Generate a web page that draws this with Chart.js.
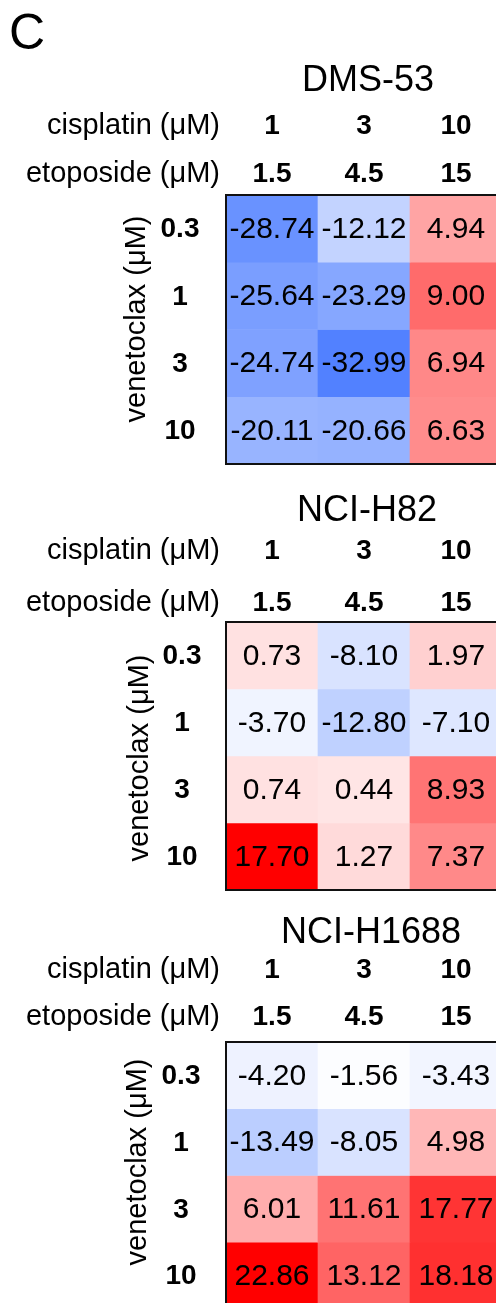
<!DOCTYPE html>
<html>
<head>
<meta charset="utf-8">
<script src="https://cdn.jsdelivr.net/npm/chart.js"></script>
<style>
  html, body { margin: 0; padding: 0; background: #fff; }
  body { width: 496px; height: 1303px; overflow: hidden; position: relative; }
  canvas { position: absolute; left: 0; }
</style>
</head>
<body>
<canvas id="p0"></canvas>
<canvas id="p1"></canvas>
<canvas id="p2"></canvas>
<script>
const cisplatinDoses = ['1', '3', '10']
const etoposideDoses = ['1.5', '4.5', '15']
const venetoclaxDoses = ['0.3', '1', '3', '10']

// rows = venetoclax, columns = cisplatin/etoposide
const dms53 = [
    [-28.74, -12.12, 4.94],
    [-25.64, -23.29, 9.00],
    [-24.74, -32.99, 6.94],
    [-20.11, -20.66, 6.63]
]
const nciH82 = [
    [0.73, -8.10, 1.97],
    [-3.70, -12.80, -7.10],
    [0.74, 0.44, 8.93],
    [17.70, 1.27, 7.37]
]
const nciH1688 = [
    [-4.20, -1.56, -3.43],
    [-13.49, -8.05, 4.98],
    [6.01, 11.61, 17.77],
    [22.86, 13.12, 18.18]
]

const FONT = "'Liberation Sans', Arial, sans-serif"
const CANVAS_W = 520
const GRID_LEFT = 226
const GRID_RIGHT = 502

const panels = [
    {id: 'p0', title: 'DMS-53', values: dms53, redMax: 16.5, letter: 'C',
        top: 0, height: 480, gridTop: 195, gridBottom: 464, titleX: 368,
        titleY: 91, cisY: 134, etoY: 182, yTitleX: 137, yTitleY: 319, rowLabelX: 180},
    {id: 'p1', title: 'NCI-H82', values: nciH82, redMax: 17.7,
        top: 480, height: 420, gridTop: 622, gridBottom: 890, titleX: 367,
        titleY: 521, cisY: 559, etoY: 611, yTitleX: 140, yTitleY: 758, rowLabelX: 182},
    {id: 'p2', title: 'NCI-H1688', values: nciH1688, redMax: 22.86,
        top: 900, height: 420, gridTop: 1042, gridBottom: 1309, titleX: 371,
        titleY: 943, cisY: 978, etoY: 1025, yTitleX: 138, yTitleY: 1162, rowLabelX: 181}
]

function cellColor(v, redMax) {
    if (v >= 0) {
        const t = Math.min(1, 0.08 + 0.92 * v / redMax)
        const g = Math.round(255 * (1 - t))
        return `rgb(255,${g},${g})`
    }
    const t = Math.min(1, Math.max(0, (-v - 1) / 49))
    const r = Math.round(255 - 265 * t)
    const g = Math.round(255 - 193 * t)
    return `rgb(${r},${g},255)`
}

const labelsPlugin = {
    id: 'heatLabels',
    afterDraw(chart) {
        const p = chart.options.plugins.heatLabels.panel
        const ctx = chart.ctx
        const area = chart.chartArea
        const xs = chart.scales.x
        const ys = chart.scales.y
        const off = p.top
        ctx.save()
        ctx.fillStyle = '#000'

        if (p.letter) {
            ctx.font = `50px ${FONT}`
            ctx.textAlign = 'left'
            ctx.textBaseline = 'alphabetic'
            ctx.fillText(p.letter, 9, 49 - off)
        }

        ctx.font = `36px ${FONT}`
        ctx.textAlign = 'center'
        ctx.textBaseline = 'alphabetic'
        ctx.fillText(p.title, p.titleX, p.titleY - off)

        ctx.font = `29px ${FONT}`
        ctx.textAlign = 'right'
        ctx.fillText('cisplatin (μM)', 220, p.cisY - off)
        ctx.fillText('etoposide (μM)', 220, p.etoY - off)

        ctx.font = `bold 28px ${FONT}`
        ctx.textAlign = 'center'
        cisplatinDoses.forEach((d, i) => {
            const x = xs.getPixelForValue(i)
            ctx.fillText(d, x, p.cisY - off)
            ctx.fillText(etoposideDoses[i], x, p.etoY - off)
        })

        ctx.textBaseline = 'middle'
        venetoclaxDoses.forEach((d, i) => {
            ctx.fillText(d, p.rowLabelX, ys.getPixelForValue(i + 0.5) + 1)
        })

        ctx.font = `29px ${FONT}`
        ctx.save()
        ctx.translate(p.yTitleX, p.yTitleY - off)
        ctx.rotate(-Math.PI / 2)
        ctx.fillText('venetoclax (μM)', 0, 0)
        ctx.restore()

        // cell values
        ctx.font = `30px ${FONT}`
        chart.data.datasets.forEach((ds, r) => {
            chart.getDatasetMeta(r).data.forEach((bar, c) => {
                const cy = (bar.y + bar.base) / 2
                ctx.fillText(p.values[r][c].toFixed(2), bar.x, cy + 1)
            })
        })

        ctx.lineWidth = 2
        ctx.strokeStyle = '#111'
        ctx.strokeRect(area.left, area.top, area.right - area.left, area.bottom - area.top)
        ctx.restore()
    }
}

panels.forEach(p => {
    const canvas = document.getElementById(p.id)
    canvas.style.top = p.top + 'px'
    canvas.width = CANVAS_W
    canvas.height = p.height

    const datasets = venetoclaxDoses.map((d, r) => ({
        label: 'venetoclax ' + d,
        data: cisplatinDoses.map(() => [r, r + 1]),
        backgroundColor: p.values[r].map(v => cellColor(v, p.redMax)),
        borderWidth: 0,
        barPercentage: 1,
        categoryPercentage: 1,
        grouped: false
    }))

    new Chart(canvas, {
        type: 'bar',
        data: {labels: cisplatinDoses, datasets: datasets},
        options: {
            responsive: false,
            animation: false,
            layout: {
                padding: {
                    left: GRID_LEFT,
                    right: CANVAS_W - GRID_RIGHT,
                    top: p.gridTop - p.top,
                    bottom: p.height - (p.gridBottom - p.top)
                }
            },
            scales: {
                x: {display: false, offset: true},
                y: {display: false, min: 0, max: 4, reverse: true}
            },
            plugins: {
                legend: {display: false},
                tooltip: {enabled: false},
                heatLabels: {panel: p}
            }
        },
        plugins: [labelsPlugin]
    })
})
</script>
</body>
</html>
